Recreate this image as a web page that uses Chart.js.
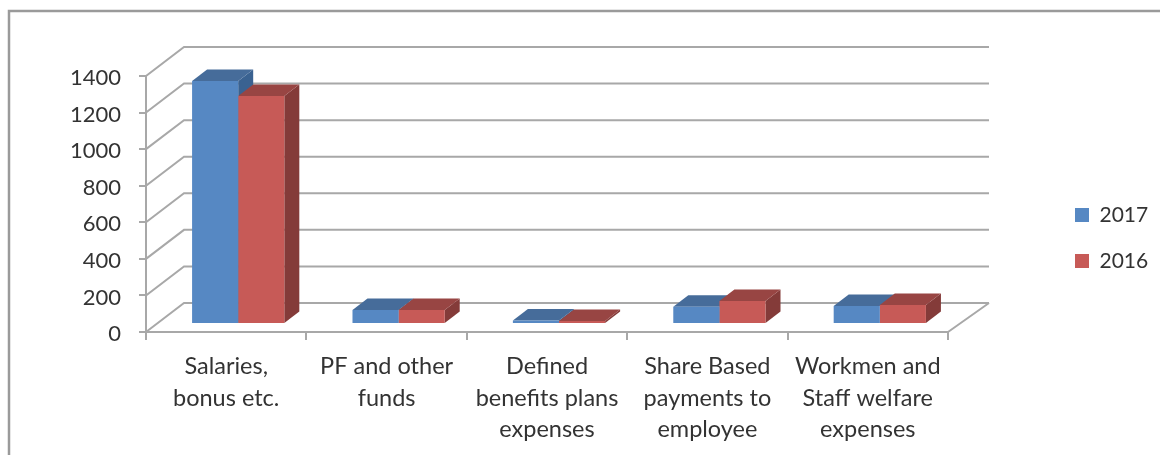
<!DOCTYPE html>
<html>
<head>
<meta charset="utf-8">
<title>Employee benefit expenses</title>
<script src="https://cdn.jsdelivr.net/npm/chart.js@4/dist/chart.umd.min.js"></script>
<style>
  html, body { margin: 0; padding: 0; background: #fff; }
  canvas { display: block; }
</style>
</head>
<body>
<canvas id="chartContainer1" width="1160" height="455"></canvas>
<script>
var categories = [
  ["Salaries,", "bonus etc."],
  ["PF and other", "funds"],
  ["Defined", "benefits plans", "expenses"],
  ["Share Based", "payments to", "employee"],
  ["Workmen and", "Staff welfare", "expenses"]
];
var values2017 = [1329, 77, 19, 95, 98];
var values2016 = [1247, 77, 17, 126, 104];
var yTicks = [0, 200, 400, 600, 800, 1000, 1200, 1400];

var gridColor = "#a8a8a8";
var textColor = "#333333";
var fontFamily = "Lato, sans-serif";

// fake 3d: how far the back wall and the bars sit behind the front plane
var wall = { left: 38, right: 41, up: 29 };
var barShift = { x: 12, y: -8 };
var barDepth = { x: 15, y: -11.5 };

var shades = [
  { front: "#5688c3", top: "#466c9a", side: "#3a6291" },
  { front: "#c75a57", top: "#984543", side: "#843b39" }
];

function poly(ctx, pts, color) {
  ctx.fillStyle = color;
  ctx.beginPath();
  ctx.moveTo(pts[0][0], pts[0][1]);
  for (var i = 1; i < pts.length; i++) ctx.lineTo(pts[i][0], pts[i][1]);
  ctx.closePath();
  ctx.fill();
}

var wallPlugin = {
  id: "wall",
  beforeDraw: function(chart) {
    var ctx = chart.ctx;
    var area = chart.chartArea;
    var y = chart.scales.y;

    ctx.save();
    // picture frame, runs off the right and bottom edges
    ctx.strokeStyle = "#9a9a9a";
    ctx.lineWidth = 2.5;
    ctx.beginPath();
    ctx.moveTo(9, 455);
    ctx.lineTo(9, 11);
    ctx.lineTo(1160, 11);
    ctx.stroke();

    ctx.strokeStyle = gridColor;
    ctx.lineWidth = 2;
    ctx.beginPath();
    yTicks.forEach(function(v) {
      var py = y.getPixelForValue(v);
      ctx.moveTo(area.left, py);
      ctx.lineTo(area.left + wall.left, py - wall.up);
      ctx.lineTo(area.right + wall.right, py - wall.up);
    });
    var floorY = y.getPixelForValue(0);
    ctx.moveTo(area.right, floorY);
    ctx.lineTo(area.right + wall.right, floorY - wall.up);
    ctx.stroke();
    ctx.restore();
  },
  beforeDatasetsDraw: function(chart) {
    var ctx = chart.ctx;
    ctx.save();
    ctx.translate(barShift.x, barShift.y);
    chart.data.datasets.forEach(function(ds, d) {
      chart.getDatasetMeta(d).data.forEach(function(bar) {
        var l = bar.x - bar.width / 2;
        var r = bar.x + bar.width / 2;
        var t = bar.y;
        var b = bar.base;
        var dx = barDepth.x;
        var dy = barDepth.y;
        poly(ctx, [[r, t], [r + dx, t + dy], [r + dx, b + dy], [r, b]], shades[d].side);
        poly(ctx, [[l, t], [r, t], [r + dx, t + dy], [l + dx, t + dy]], shades[d].top);
      });
    });
  },
  afterDatasetsDraw: function(chart) {
    chart.ctx.restore();
  },
  afterLayout: function(chart) {
    // legend sits well clear of the plot, move it over
    var lg = chart.legend;
    var w = lg.right - lg.left;
    var h = lg.bottom - lg.top;
    lg.left = 1075 - lg.options.labels.padding;
    lg.right = lg.left + w;
    lg.top = 238 - h / 2;
    lg.bottom = lg.top + h;
  }
};

var chart1 = new Chart(document.getElementById("chartContainer1").getContext("2d"), {
  type: "bar",
  data: {
    labels: categories,
    datasets: [
      { label: "2017", data: values2017, backgroundColor: shades[0].front, borderWidth: 0, clip: false },
      { label: "2016", data: values2016, backgroundColor: shades[1].front, borderWidth: 0, clip: false }
    ]
  },
  options: {
    responsive: false,
    animation: false,
    layout: { padding: { top: 76, right: 112, bottom: 0, left: 0 } },
    datasets: { bar: { categoryPercentage: 0.575, barPercentage: 1 } },
    plugins: {
      tooltip: { enabled: false },
      legend: {
        position: "right",
        maxWidth: 100,
        labels: {
          boxWidth: 14,
          boxHeight: 14,
          padding: 25,
          color: textColor,
          font: { family: fontFamily, size: 21 }
        }
      }
    },
    scales: {
      x: {
        afterFit: function(scale) { scale.height = 123; },
        grid: { drawOnChartArea: false, color: gridColor, lineWidth: 2, tickLength: 8 },
        border: { color: gridColor, width: 2 },
        ticks: {
          autoSkip: false,
          maxRotation: 0,
          padding: 11,
          color: textColor,
          font: { family: fontFamily, size: 23.5, lineHeight: "31.5px" }
        }
      },
      y: {
        min: 0,
        max: 1400,
        afterFit: function(scale) { scale.width = 146; },
        afterBuildTicks: function(scale) {
          scale.ticks = yTicks.map(function(v) { return { value: v }; });
        },
        grid: { drawOnChartArea: false, color: gridColor, lineWidth: 2, tickLength: 7 },
        border: { color: gridColor, width: 2 },
        ticks: {
          padding: 18,
          labelOffset: 2,
          color: textColor,
          font: { family: fontFamily, size: 22 },
          callback: function(v) { return String(v); }
        }
      }
    }
  },
  plugins: [wallPlugin]
});
</script>
</body>
</html>
